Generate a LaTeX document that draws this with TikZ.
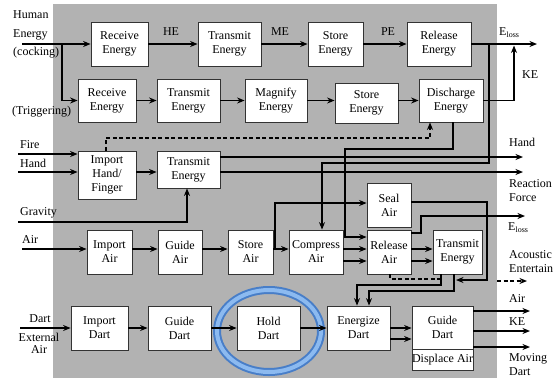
\documentclass[tikz,border=0pt]{standalone}
\usepackage{fontspec}
\setmainfont{Liberation Serif}
\usetikzlibrary{arrows.meta}
\definecolor{bggray}{RGB}{178,178,178}
\definecolor{ringdark}{RGB}{72,126,200}
\definecolor{ringlight}{RGB}{140,186,240}
\begin{document}
\begin{tikzpicture}[x=1pt,y=-1pt,
  >={Stealth[length=7.5pt,width=6pt]},
  box/.style={draw=black!80, line width=0.8pt, fill=white, align=center,
    inner sep=0pt, font=\fontsize{12}{14}\selectfont},
  lbl/.style={inner sep=0pt, font=\fontsize{12}{14}\selectfont, align=left},
  wire/.style={line width=1.3pt, ->},
  dwire/.style={line width=1.3pt, dash pattern=on 4pt off 2.5pt}
]
% panel and page size
\useasboundingbox (0,0) rectangle (556,378);
\fill[bggray] (53,4) rectangle (497,378);

% ---------------- boxes ----------------
% cocking chain
\node[box, minimum width=57pt, minimum height=44pt] (re1) at (119.5,44) {Receive\\Energy};
\node[box, minimum width=63pt, minimum height=44pt] (te1) at (229.5,44) {Transmit\\Energy};
\node[box, minimum width=55pt, minimum height=44pt] (se1) at (335.5,44) {Store\\Energy};
\node[box, minimum width=64pt, minimum height=44pt] (rl1) at (439,44) {Release\\Energy};
% triggering chain
\node[box, minimum width=58pt, minimum height=43pt] (re2) at (107,100.5) {Receive\\Energy};
\node[box, minimum width=63pt, minimum height=43pt] (te2) at (188.5,100.5) {Transmit\\Energy};
\node[box, minimum width=62pt, minimum height=43pt] (mg2) at (276,100.5) {Magnify\\Energy};
\node[box, minimum width=63pt, minimum height=40pt] (se2) at (366.5,103) {Store\\Energy};
\node[box, minimum width=64pt, minimum height=43pt] (de2) at (451,100.5) {Discharge\\Energy};
% hand
\node[box, minimum width=58pt, minimum height=48pt] (ih) at (107,175) {Import\\Hand/\\Finger};
\node[box, minimum width=63pt, minimum height=37pt] (te3) at (188.5,169.5) {Transmit\\Energy};
% air
\node[box, minimum width=45pt, minimum height=44pt] (ia) at (109.5,252) {Import\\Air};
\node[box, minimum width=44pt, minimum height=44pt] (ga) at (180,252) {Guide\\Air};
\node[box, minimum width=45pt, minimum height=44pt] (sa) at (250.5,252) {Store\\Air};
\node[box, minimum width=54pt, minimum height=44pt] (ca) at (316,252) {Compress\\Air};
\node[box, minimum width=44pt, minimum height=44pt] (ra) at (389,252) {Release\\Air};
\node[box, minimum width=44pt, minimum height=44pt] (sl) at (389,205) {Seal\\Air};
\node[box, minimum width=49pt, minimum height=44pt] (ta) at (457.5,252) {Transmit\\Energy};
% dart
\node[box, minimum width=57pt, minimum height=44pt] (id) at (99.5,328) {Import\\Dart};
\node[box, minimum width=63pt, minimum height=44pt] (gd) at (179.5,328) {Guide\\Dart};
\node[box, minimum width=63pt, minimum height=44pt] (hd) at (268.5,328) {Hold\\Dart};
\node[box, minimum width=63pt, minimum height=44pt] (ed) at (358.5,328) {Energize\\Dart};
\node[box, minimum width=61pt, minimum height=43pt] (gd2) at (442.5,327.5) {Guide\\Dart};
\node[box, minimum width=61pt, minimum height=21pt] (da) at (442.5,359.5) {Displace Air};

% highlight ring round the hold step
\draw[line width=8pt, ringdark] (269,331) ellipse [x radius=52pt, y radius=41pt];
\draw[line width=4pt, ringlight] (269,331) ellipse [x radius=52pt, y radius=41pt];

% ---------------- free ends and bends ----------------
\coordinate (hIn) at (22,44);
\coordinate (hSplit) at (62,44);
\coordinate (eloss1) at (537,44);
\coordinate (keTop) at (514,45.5);
\coordinate (tapA) at (489,44);
\coordinate (caIn) at (322,163);
\coordinate (dA) at (453,149);
\coordinate (dB) at (345,149);
\coordinate (dC) at (345,237);
\coordinate (hA) at (106,138);
\coordinate (hB) at (430,138);
\coordinate (fireIn) at (18,154);
\coordinate (handIn) at (18,172);
\coordinate (handOut) at (523,157);
\coordinate (rfOut) at (523,172);
\coordinate (gIn) at (18,222);
\coordinate (gB) at (187,222);
\coordinate (airIn) at (22,249);
\coordinate (airLo) at (0,261);
\coordinate (sA) at (275,249);
\coordinate (sB) at (275,203);
\coordinate (rA) at (421,233);
\coordinate (rB) at (421,216);
\coordinate (eloss2) at (525,216);
\coordinate (slA) at (487,202);
\coordinate (slB) at (487,280);
\coordinate (slEnd) at (456,280);
\coordinate (dsA) at (390,279);
\coordinate (dsB) at (441,279);
\coordinate (tA) at (441,285);
\coordinate (tB) at (357,285);
\coordinate (tC) at (454,291);
\coordinate (tD) at (369,291);
\coordinate (acA) at (497,281);
\coordinate (acB) at (527,281);
\coordinate (dartIn) at (20,328);
\coordinate (edLo) at (0,339);
\coordinate (oAir) at (530,311);
\coordinate (oKE) at (530,331);
\coordinate (oDart) at (530,347);

% ---------------- connectors ----------------
% cocking
\draw[wire] (hIn) -- (re1.west);
\draw[wire] (re1.east) -- (te1.west);
\draw[wire] (te1.east) -- (se1.west);
\draw[wire] (se1.east) -- (rl1.west);
\draw[wire] (rl1.east) -- (eloss1);
\draw[wire] (hSplit) |- (re2.west);
% triggering
\draw[wire] (re2.east) -- (te2.west);
\draw[wire] (te2.east) -- (mg2.west);
\draw[wire] (mg2.east) -- (se2.west |- mg2.east);
\draw[wire] (se2.east |- de2.west) -- (de2.west);
\draw[wire] (de2.east) -| (keTop);
\draw[wire] (tapA) |- (caIn) -- (ca.north -| caIn);
\draw[wire] (de2.south -| dA) -- (dA) -- (dB) -- (dC) -- (ra.west |- dC);
\draw[dwire, ->] (ih.north -| hA) -- (hA) -- (hB) -- (de2.south -| hB);
% hand
\draw[wire] (fireIn) -- (ih.west |- fireIn);
\draw[wire] (handIn) -- (ih.west |- handIn);
\draw[wire] (ih.east |- handIn) -- (te3.west |- handIn);
\draw[wire] (te3.east |- handOut) -- (handOut);
\draw[wire] (te3.east |- rfOut) -- (rfOut);
\draw[wire] (gIn) -- (gB) -- (te3.south -| gB);
% air
\draw[wire] (airIn) -- (ia.west |- airIn);
\draw[wire] (ia.east |- airIn) -- (ga.west |- airIn);
\draw[wire] (ga.east |- airIn) -- (sa.west |- airIn);
\draw[wire] (sa.east |- airIn) -- (ca.west |- airIn);
\draw[wire] (sA) -- (sB) -- (sl.west |- sB);
\draw[wire] (ca.east |- airIn) -- (ra.west |- airIn);
\draw[wire] (ca.east |- airLo) -- (ra.west |- airLo);
\draw[wire] (ra.east |- airIn) -- (ta.west |- airIn);
\draw[wire] (ra.east |- airLo) -- (ta.west |- airLo);
\draw[wire] (ra.east |- rA) -- (rA) -- (rB) -- (eloss2);
\draw[wire] (sl.east |- slA) -- (slA) -- (slB) -- (slEnd);
\draw[dwire] (ra.south -| dsA) -- (dsA) -- (dsB);
\draw[wire] (ta.south -| tA) -- (tA) -- (tB) -- (ed.north -| tB);
\draw[wire] (ta.south -| tC) -- (tC) -- (tD) -- (ed.north -| tD);
\draw[dwire, ->] (acA) -- (acB);
% dart
\draw[wire] (dartIn) -- (id.west);
\draw[wire] (id.east) -- (gd.west);
\draw[wire] (gd.east) -- (hd.west);
\draw[wire] (hd.east) -- (ed.west);
\draw[wire] (ed.east) -- (gd2.west |- ed.east);
\draw[wire] (ed.east |- edLo) -- (gd2.west |- edLo);
\draw[wire] (gd2.east |- oAir) -- (oAir);
\draw[wire] (gd2.east |- oKE) -- (oKE);
\draw[wire] (gd2.east |- oDart) -- (oDart);

% ---------------- labels ----------------
\node[lbl] (lHE) at (171,32) {HE};
\node[lbl] (lME) at (280,32) {ME};
\node[lbl] (lPE) at (388,32) {PE};
\node[lbl, anchor=west] (lEl1) at (499,33) {E\textsubscript{loss}};
\node[lbl, anchor=west] (lKE1) at (522,75) {KE};
\node[lbl, anchor=west, font=\fontsize{12}{18.5}\selectfont] (lHum) at (13,34.5) {Human\\Energy\\(cocking)};
\node[lbl, anchor=west] (lTrig) at (12,112) {(Triggering)};
\node[lbl, anchor=west] (lFire) at (20,145) {Fire};
\node[lbl, anchor=west] (lHand) at (20,163) {Hand};
\node[lbl, anchor=west] (lGrav) at (20,213) {Gravity};
\node[lbl, anchor=west] (lAir) at (22,240) {Air};
\node[lbl] (lDart) at (40,319) {Dart};
\node[lbl, align=center, font=\fontsize{12}{12}\selectfont] (lExt) at (39,343) {External\\Air};
\node[lbl, anchor=west] (rHand) at (509,142) {Hand};
\node[lbl, anchor=west] (rRF) at (509,191) {Reaction\\Force};
\node[lbl, anchor=west] (rEl2) at (508,228) {E\textsubscript{loss}};
\node[lbl, anchor=west] (rAc) at (509,262) {Acoustic\\Entertain};
\node[lbl, anchor=west] (rAir) at (509,299) {Air};
\node[lbl, anchor=west] (rKE) at (509,322) {KE};
\node[lbl, anchor=west] (rMD) at (509,365) {Moving\\Dart};
\end{tikzpicture}
\end{document}
